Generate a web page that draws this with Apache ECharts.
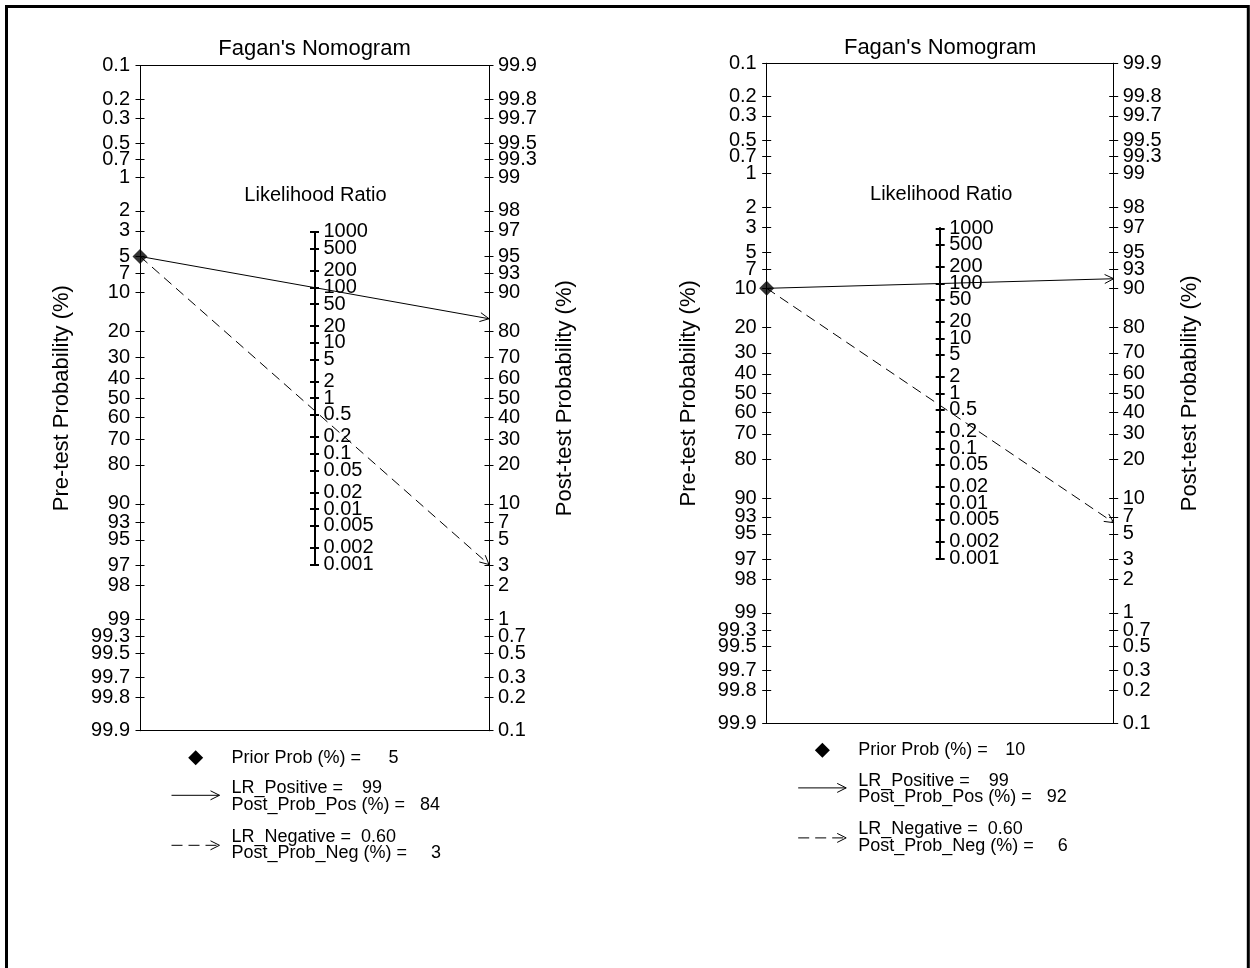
<!DOCTYPE html>
<html><head><meta charset="utf-8">
<script src="https://cdn.jsdelivr.net/npm/echarts@6/dist/echarts.min.js"></script>
<style>html,body{margin:0;padding:0;background:#fff}#main{width:1250px;height:968px}</style>
</head><body><div id="main"></div>
<script>
// ---------- data ----------
const probTicks = [0.1,0.2,0.3,0.5,0.7,1,2,3,5,7,10,20,30,40,50,60,70,80,90,93,95,97,98,99,99.3,99.5,99.7,99.8,99.9];
const lrTicks = [1000,500,200,100,50,20,10,5,2,1,0.5,0.2,0.1,0.05,0.02,0.01,0.005,0.002,0.001];
const priorProb = [5, 10];
const lrPositive = [99, 99];
const lrNegative = [0.60, 0.60];
const postProbPos = [84, 92];
const postProbNeg = [3, 6];
const chartTitle = "Fagan's Nomogram";
const lrTitle = 'Likelihood Ratio';
const preName = 'Pre-test Probability (%)';
const postName = 'Post-test Probability (%)';

// ---------- layout ----------
const FONT = "'Liberation Sans', Arial, sans-serif";
const panels = [
  {left:140, top:65.7, width:349, height:665, titleY:49, lrTitleY:195.5},
  {left:766.7, top:63.3, width:347, height:660, titleY:48, lrTitleY:194}
];
const logit = p => Math.log(p/(1-p));
const M = logit(0.999);           // half-range of the probability scales (logit units)
const LM = Math.log(1000)/2;      // half-range of the LR scale (same units)
const EPS = 1e-9;

const preVals = probTicks.map(p => -logit(p/100));
const postVals = probTicks.map(p => logit(p/100));
const lrVals = lrTicks.map(l => Math.log(l)/2);
const lrValsA = lrVals.filter((v,i) => i % 2 === 0);
const lrValsB = lrVals.filter((v,i) => i % 2 === 1);
function makeFmt(vals, labels){
  return function(v){
    let best = 0, bd = Infinity;
    vals.forEach((u,i)=>{ const d = Math.abs(u-v); if(d<bd){bd=d;best=i;} });
    return String(labels[best]);
  };
}
const fmtPre = makeFmt(preVals, probTicks);
const fmtPost = makeFmt(postVals, probTicks);
const fmtLR = makeFmt(lrVals, lrTicks);

function arrowChildren(x0,y0,x1,y1,dash,L,W){
  const dx = x1-x0, dy = y1-y0, len = Math.hypot(dx,dy);
  const ux = dx/len, uy = dy/len;
  const bx = x1-ux*L, by = y1-uy*L;
  return [
    {type:'line', shape:{x1:x0,y1:y0,x2:x1,y2:y1}, style:{stroke:'#000', lineWidth:1, lineDash: dash || null}},
    {type:'polyline', shape:{points:[[bx-uy*W, by+ux*W],[x1,y1],[bx+uy*W, by-ux*W]]}, style:{stroke:'#000', fill:null, lineWidth:1}}
  ];
}

const grids=[], xAxes=[], yAxes=[], series=[], graphics=[];
const tickStyle = {color:'#000', width:1};
const labelBase = {color:'#000', fontSize:20, fontFamily:FONT, showMinLabel:true, showMaxLabel:true, hideOverlap:false};

graphics.push({type:'rect', shape:{x:6.5, y:6.5, width:1241.8, height:975}, style:{fill:null, stroke:'#000', lineWidth:3}});

panels.forEach((P, i) => {
  const gMain = grids.length;
  grids.push({left:P.left, top:P.top, width:P.width, height:P.height, outerBoundsMode:'none', containLabel:false});
  const lrTop = P.top + (M-LM)/(2*M)*P.height;
  const lrH = LM/M*P.height;
  const midX = P.left + P.width/2;
  const gLR = grids.length;
  grids.push({left:midX, top:lrTop, width:20, height:lrH, outerBoundsMode:'none', containLabel:false});

  const xBase = {type:'value', min:0, max:1, axisTick:{show:false}, axisLabel:{show:false}, splitLine:{show:false},
                 axisLine:{show:true, onZero:false, lineStyle:{color:'#000', width:1}}};
  const xMain = xAxes.length;
  xAxes.push(Object.assign({gridIndex:gMain, position:'bottom'}, xBase));
  xAxes.push(Object.assign({gridIndex:gMain, position:'top'}, xBase));
  xAxes.push({gridIndex:gLR, type:'value', min:0, max:1, show:false});

  const yBase = {type:'value', min:-M-EPS, max:M+EPS, splitLine:{show:false},
                 axisLine:{show:true, onZero:false, lineStyle:{color:'#000', width:1}}};
  const yMain = yAxes.length;
  yAxes.push(Object.assign({}, yBase, {gridIndex:gMain, position:'left',
    name:preName, nameLocation:'middle', nameRotate:90, nameGap:67,
    nameTextStyle:{color:'#000', fontSize:22, fontFamily:FONT},
    axisTick:{show:true, inside:false, length:4.5, customValues:preVals, lineStyle:tickStyle},
    axisLabel:Object.assign({show:true, customValues:preVals, formatter:fmtPre, margin:10}, labelBase)}));
  yAxes.push(Object.assign({}, yBase, {gridIndex:gMain, position:'left',
    axisTick:{show:true, inside:true, length:4.5, customValues:preVals, lineStyle:tickStyle},
    axisLabel:{show:false}}));
  yAxes.push(Object.assign({}, yBase, {gridIndex:gMain, position:'right',
    name:postName, nameLocation:'middle', nameRotate:90, nameGap:65,
    nameTextStyle:{color:'#000', fontSize:22, fontFamily:FONT},
    axisTick:{show:true, inside:false, length:4.5, customValues:postVals, lineStyle:tickStyle},
    axisLabel:Object.assign({show:true, customValues:postVals, formatter:fmtPost, margin:9}, labelBase)}));
  yAxes.push(Object.assign({}, yBase, {gridIndex:gMain, position:'right',
    axisTick:{show:true, inside:true, length:4.5, customValues:postVals, lineStyle:tickStyle},
    axisLabel:{show:false}}));
  // LR axis (labels split over two overlaid axes so neighbours are not auto-hidden)
  const lrBase = {type:'value', min:-LM-EPS, max:LM+EPS, splitLine:{show:false}, gridIndex:gLR, position:'left',
                  axisLine:{show:true, onZero:false, lineStyle:{color:'#000', width:2}}};
  yAxes.push(Object.assign({}, lrBase, {
    axisTick:{show:true, inside:true, length:4.5, customValues:lrVals, lineStyle:{color:'#000', width:2}},
    axisLabel:Object.assign({show:true, inside:true, customValues:lrValsA, formatter:fmtLR, margin:9}, labelBase)}));
  yAxes.push(Object.assign({}, lrBase, {
    axisTick:{show:true, inside:false, length:4.5, customValues:lrVals, lineStyle:{color:'#000', width:2}},
    axisLabel:Object.assign({show:true, inside:true, customValues:lrValsB, formatter:fmtLR, margin:9}, labelBase)}));

  const yPre = -logit(priorProb[i]/100);
  const yPos = -yPre + Math.log(lrPositive[i]);
  const yNeg = -yPre + Math.log(lrNegative[i]);
  series.push({
    type:'custom', xAxisIndex:xMain, yAxisIndex:yMain, clip:false, z:3,
    data:[[yPre, yPos, 0],[yPre, yNeg, 1]],
    renderItem:function(params, api){
      const p0 = api.coord([0, api.value(0)]);
      const p1 = api.coord([1, api.value(1)]);
      const dashed = api.value(2) === 1;
      return {type:'group', children: arrowChildren(p0[0],p0[1],p1[0],p1[1], dashed?[10,6]:null, 9, 4.5)};
    }
  });
  series.push({type:'scatter', xAxisIndex:xMain, yAxisIndex:yMain, clip:false, z:5,
    symbol:'diamond', symbolSize:15, itemStyle:{color:'#000'}, data:[[0, yPre]], silent:true});

  // titles
  graphics.push({type:'text', x:midX, y:P.titleY, style:{text:chartTitle, fontSize:22, fontFamily:FONT, fill:'#000', align:'center', verticalAlign:'middle'}});
  graphics.push({type:'text', x:midX+1, y:P.lrTitleY, style:{text:lrTitle, fontSize:20, fontFamily:FONT, fill:'#000', align:'center', verticalAlign:'middle'}});

  // legend
  const b = P.top + P.height, L0 = P.left;
  const tx = L0 + 91.5;
  const t = (x,y,s,al) => ({type:'text', x:x, y:y, style:{text:s, fontSize:18, fontFamily:FONT, fill:'#000', align:al||'left', verticalAlign:'middle'}});
  const dx = L0 + 55.7, dy = b + 27;
  graphics.push({type:'polygon', shape:{points:[[dx,dy-7.5],[dx+7.5,dy],[dx,dy+7.5],[dx-7.5,dy]]}, style:{fill:'#000'}});
  graphics.push(t(tx, b+27, 'Prior Prob (%) ='));
  graphics.push(t(tx+167, b+27, String(priorProb[i]), 'right'));
  graphics.push({type:'group', children: arrowChildren(L0+31.5, b+64.6, L0+79.5, b+64.6, null, 9, 4.5)});
  graphics.push(t(tx, b+57.5, 'LR_Positive ='));
  graphics.push(t(tx+150.5, b+57.5, String(lrPositive[i]), 'right'));
  graphics.push(t(tx, b+74, 'Post_Prob_Pos (%) ='));
  graphics.push(t(tx+208.5, b+74, String(postProbPos[i]), 'right'));
  graphics.push({type:'group', children: arrowChildren(L0+31.5, b+114.6, L0+79.5, b+114.6, [11,6], 9, 4.5)});
  graphics.push(t(tx, b+106, 'LR_Negative ='));
  graphics.push(t(tx+164.5, b+106, lrNegative[i].toFixed(2), 'right'));
  graphics.push(t(tx, b+122.7, 'Post_Prob_Neg (%) ='));
  graphics.push(t(tx+209.5, b+122.7, String(postProbNeg[i]), 'right'));
});

const chart = echarts.init(document.getElementById('main'), null, {renderer:'canvas'});
chart.setOption({
  backgroundColor:'#fff',
  animation:false,
  grid:grids, xAxis:xAxes, yAxis:yAxes, series:series, graphic:graphics
});
</script></body></html>
